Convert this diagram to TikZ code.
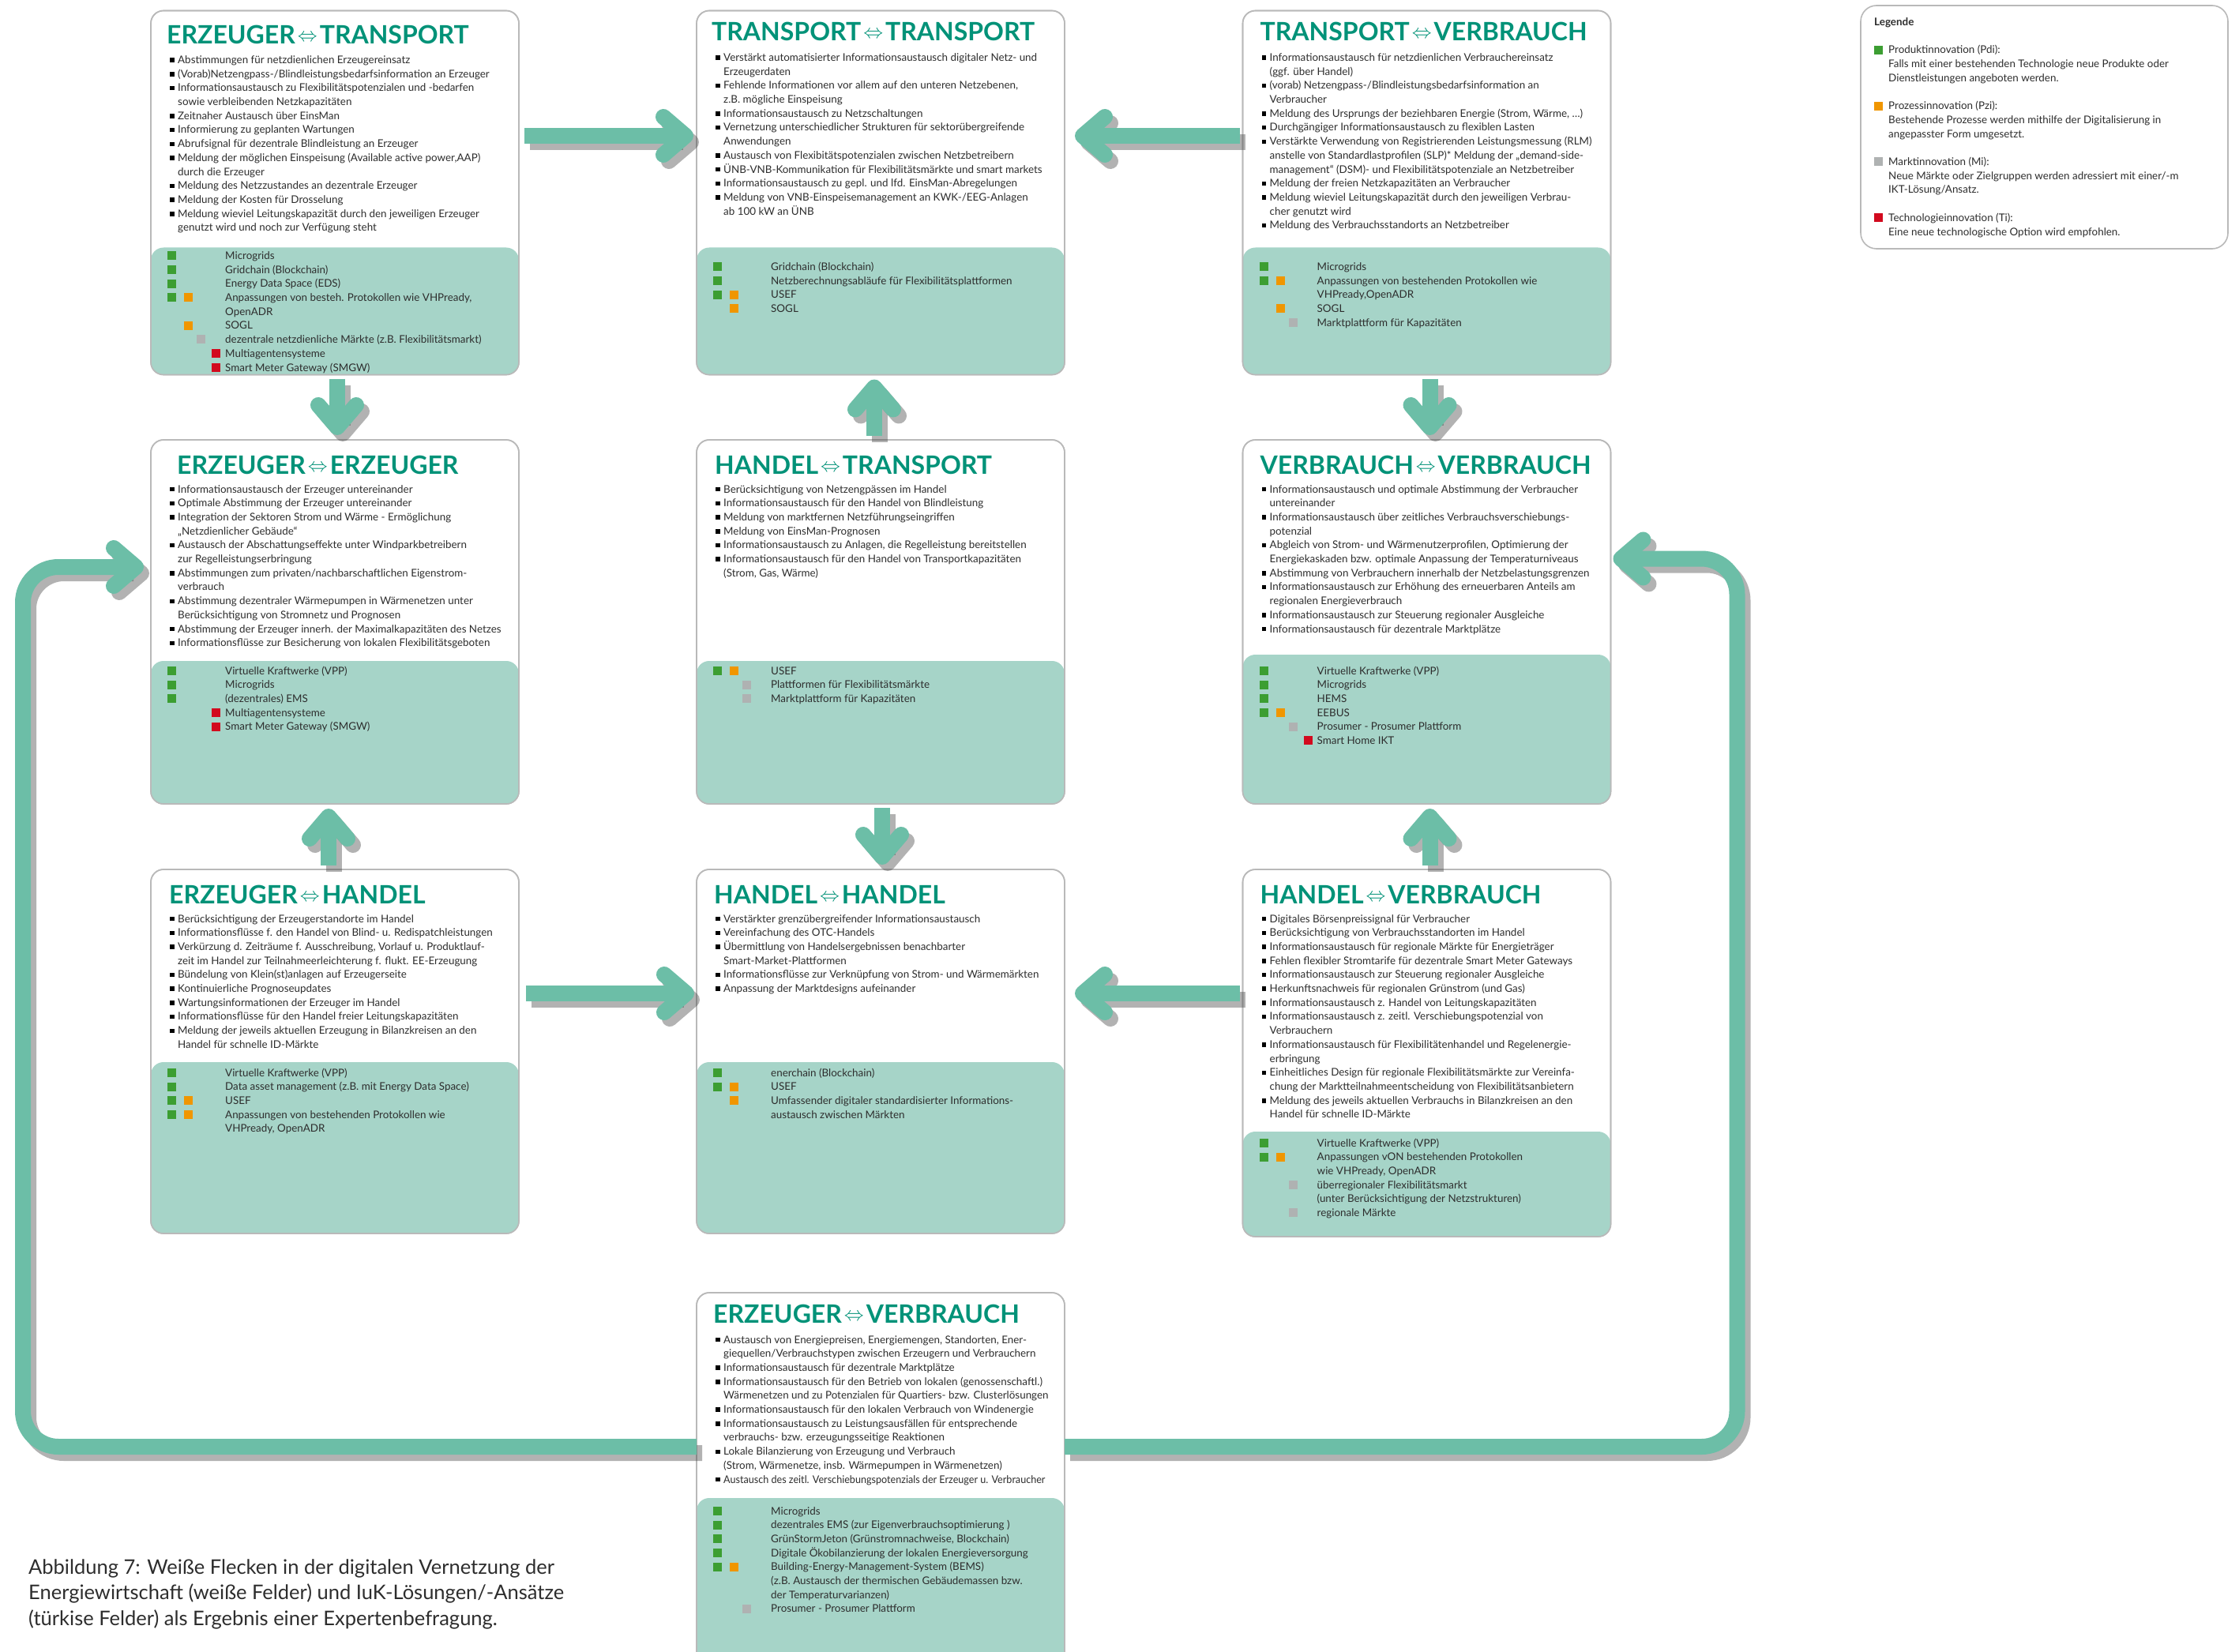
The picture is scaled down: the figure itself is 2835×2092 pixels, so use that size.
\documentclass[tikz,border=0pt]{standalone}
\usepackage{fontspec}
\setmainfont{Lato}
\usepackage{array}
\usetikzlibrary{arrows.meta}

\definecolor{titlecol}{RGB}{0,146,120}
\definecolor{flowcol}{RGB}{108,190,167}
\definecolor{techcol}{RGB}{166,212,200}
\definecolor{framecol}{RGB}{185,185,185}
\definecolor{textcol}{RGB}{45,45,45}
\definecolor{pdi}{RGB}{60,158,50}
\definecolor{pzi}{RGB}{240,150,0}
\definecolor{mi}{RGB}{175,178,178}
\definecolor{ti}{RGB}{210,10,30}
\colorlet{arrowcol}{flowcol}

\newcommand{\blt}{\textcolor{black}{\rule[1.6pt]{5.5pt}{5.5pt}}}
\newcommand{\sqG}{\textcolor{pdi}{\rule[-0.8pt]{11pt}{11pt}}}
\newcommand{\sqO}{\textcolor{pzi}{\rule[-0.8pt]{11pt}{11pt}}}
\newcommand{\sqM}{\textcolor{mi}{\rule[-0.8pt]{11pt}{11pt}}}
\newcommand{\sqT}{\textcolor{ti}{\rule[-0.8pt]{11pt}{11pt}}}
\newcommand{\pair}[2]{#1\hspace{3pt}\raisebox{3pt}{\fontsize{32pt}{32pt}\selectfont$\Leftrightarrow$}\hspace{3pt}#2}
\newcolumntype{B}{@{}p{10pt}@{}l@{}}
\newcolumntype{K}{@{}p{21pt}@{}p{16pt}@{}p{19pt}@{}p{17pt}@{}l@{}}
\newcolumntype{L}{@{}p{18pt}@{}l@{}}

\begin{document}
\begin{tikzpicture}[x=1pt, y=-1pt,
    box/.style={draw=framecol, line width=1.6pt, fill=white, rounded corners=16pt,
      minimum width=466pt, minimum height=461pt, inner sep=0pt, outer sep=0pt},
    tech/.style={fill=techcol, rounded corners=16pt},
    title/.style={anchor=base west, inner sep=0pt, text=titlecol,
      font=\fontsize{32pt}{36pt}\selectfont\bfseries},
    blist/.style={anchor=base west, inner sep=0pt, text=textcol,
      font=\fontsize{13.4pt}{17.7pt}\selectfont},
    flow/.style={draw=arrowcol, line width=20pt,
      -{Straight Barb[length=28pt,width=48pt,round]}}]

\fill[white] (0,0) rectangle (2835,2092);
\useasboundingbox (0,0) rectangle (2835,2092);

% Erzeuger - Transport
\node[box] (et) at (424,244) {};
\fill[tech] ([yshift=-300pt]et.north west) rectangle (et.south east);
\node[title] (et-t) at ([xshift=20pt,yshift=-42pt]et.north west) {\pair{ERZEUGER}{TRANSPORT}};
\node[blist] (et-b) at ([xshift=24pt,yshift=-67pt]et.north west) {\begin{tabular}[t]{B}
  \blt & Abstimmungen für netzdienlichen Erzeugereinsatz\\
  \blt & (Vorab)Netzengpass-/Blindleistungsbedarfsinformation an Erzeuger\\
  \blt & Informationsaustausch zu Flexibilitätspotenzialen und -bedarfen\\
       & sowie verbleibenden Netzkapazitäten\\
  \blt & Zeitnaher Austausch über EinsMan\\
  \blt & Informierung zu geplanten Wartungen\\
  \blt & Abrufsignal für dezentrale Blindleistung an Erzeuger\\
  \blt & Meldung der möglichen Einspeisung (Available active power,AAP)\\
       & durch die Erzeuger\\
  \blt & Meldung des Netzzustandes an dezentrale Erzeuger\\
  \blt & Meldung der Kosten für Drosselung\\
  \blt & Meldung wieviel Leitungskapazität durch den jeweiligen Erzeuger\\
       & genutzt wird und noch zur Verfügung steht
\end{tabular}};
\node[blist] (et-k) at ([xshift=21pt,yshift=-315pt]et.north west) {\begin{tabular}[t]{K}
  \sqG & & & & Microgrids\\
  \sqG & & & & Gridchain (Blockchain)\\
  \sqG & & & & Energy Data Space (EDS)\\
  \sqG & \sqO & & & Anpassungen von besteh. Protokollen wie VHPready,\\
       & & & & OpenADR\\
       & \sqO & & & SOGL\\
       & & \sqM & & dezentrale netzdienliche Märkte (z.B. Flexibilitätsmarkt)\\
       & & & \sqT & Multiagentensysteme\\
       & & & \sqT & Smart Meter Gateway (SMGW)
\end{tabular}};

% Transport - Transport
\node[box] (tt) at (1115,244) {};
\fill[tech] ([yshift=-300pt]tt.north west) rectangle (tt.south east);
\node[title] (tt-t) at ([xshift=19pt,yshift=-38pt]tt.north west) {\pair{TRANSPORT}{TRANSPORT}};
\node[blist] (tt-b) at ([xshift=24pt,yshift=-64pt]tt.north west) {\begin{tabular}[t]{B}
  \blt & Verstärkt automatisierter Informationsaustausch digitaler Netz- und\\
       & Erzeugerdaten\\
  \blt & Fehlende Informationen vor allem auf den unteren Netzebenen,\\
       & z.B. mögliche Einspeisung\\
  \blt & Informationsaustausch zu Netzschaltungen\\
  \blt & Vernetzung unterschiedlicher Strukturen für sektorübergreifende\\
       & Anwendungen\\
  \blt & Austausch von Flexibitätspotenzialen zwischen Netzbetreibern\\
  \blt & ÜNB-VNB-Kommunikation für Flexibilitätsmärkte und smart markets\\
  \blt & Informationsaustausch zu gepl. und lfd. EinsMan-Abregelungen\\
  \blt & Meldung von VNB-Einspeisemanagement an KWK-/EEG-Anlagen\\
       & ab 100 kW an ÜNB
\end{tabular}};
\node[blist] (tt-k) at ([xshift=21pt,yshift=-329pt]tt.north west) {\begin{tabular}[t]{K}
  \sqG & & & & Gridchain (Blockchain)\\
  \sqG & & & & Netzberechnungsabläufe für Flexibilitätsplattformen\\
  \sqG & \sqO & & & USEF\\
       & \sqO & & & SOGL
\end{tabular}};

% Transport - Verbrauch
\node[box] (tv) at (1806.5,244) {};
\fill[tech] ([yshift=-300pt]tv.north west) rectangle (tv.south east);
\node[title] (tv-t) at ([xshift=22pt,yshift=-38pt]tv.north west) {\pair{TRANSPORT}{VERBRAUCH}};
\node[blist] (tv-b) at ([xshift=24pt,yshift=-64pt]tv.north west) {\begin{tabular}[t]{B}
  \blt & Informationsaustausch für netzdienlichen Verbrauchereinsatz\\
       & (ggf. über Handel)\\
  \blt & (vorab) Netzengpass-/Blindleistungsbedarfsinformation an\\
       & Verbraucher\\
  \blt & Meldung des Ursprungs der beziehbaren Energie (Strom, Wärme, …)\\
  \blt & Durchgängiger Informationsaustausch zu flexiblen Lasten\\
  \blt & Verstärkte Verwendung von Registrierenden Leistungsmessung (RLM)\\
       & anstelle von Standardlastprofilen (SLP)* Meldung der „demand-side-\\
       & management“ (DSM)- und Flexibilitätspotenziale an Netzbetreiber\\
  \blt & Meldung der freien Netzkapazitäten an Verbraucher\\
  \blt & Meldung wieviel Leitungskapazität durch den jeweiligen Verbrau-\\
       & cher genutzt wird\\
  \blt & Meldung des Verbrauchsstandorts an Netzbetreiber
\end{tabular}};
\node[blist] (tv-k) at ([xshift=21pt,yshift=-329pt]tv.north west) {\begin{tabular}[t]{K}
  \sqG & & & & Microgrids\\
  \sqG & \sqO & & & Anpassungen von bestehenden Protokollen wie\\
       & & & & VHPready,OpenADR\\
       & \sqO & & & SOGL\\
       & & \sqM & & Marktplattform für Kapazitäten
\end{tabular}};

% Erzeuger - Erzeuger
\node[box] (ee) at (424,787.5) {};
\fill[tech] ([yshift=-280pt]ee.north west) rectangle (ee.south east);
\node[title] (ee-t) at ([xshift=33pt,yshift=-43pt]ee.north west) {\pair{ERZEUGER}{ERZEUGER}};
\node[blist] (ee-b) at ([xshift=24pt,yshift=-67pt]ee.north west) {\begin{tabular}[t]{B}
  \blt & Informationsaustausch der Erzeuger untereinander\\
  \blt & Optimale Abstimmung der Erzeuger untereinander\\
  \blt & Integration der Sektoren Strom und Wärme - Ermöglichung\\
       & „Netzdienlicher Gebäude“\\
  \blt & Austausch der Abschattungseffekte unter Windparkbetreibern\\
       & zur Regelleistungserbringung\\
  \blt & Abstimmungen zum privaten/nachbarschaftlichen Eigenstrom-\\
       & verbrauch\\
  \blt & Abstimmung dezentraler Wärmepumpen in Wärmenetzen unter\\
       & Berücksichtigung von Stromnetz und Prognosen\\
  \blt & Abstimmung der Erzeuger innerh. der Maximalkapazitäten des Netzes\\
  \blt & Informationsflüsse zur Besicherung von lokalen Flexibilitätsgeboten
\end{tabular}};
\node[blist] (ee-k) at ([xshift=21pt,yshift=-297pt]ee.north west) {\begin{tabular}[t]{K}
  \sqG & & & & Virtuelle Kraftwerke (VPP)\\
  \sqG & & & & Microgrids\\
  \sqG & & & & (dezentrales) EMS\\
       & & & \sqT & Multiagentensysteme\\
       & & & \sqT & Smart Meter Gateway (SMGW)
\end{tabular}};

% Handel - Transport
\node[box] (ht) at (1115,787.5) {};
\fill[tech] ([yshift=-280pt]ht.north west) rectangle (ht.south east);
\node[title] (ht-t) at ([xshift=23pt,yshift=-43pt]ht.north west) {\pair{HANDEL}{TRANSPORT}};
\node[blist] (ht-b) at ([xshift=24pt,yshift=-67pt]ht.north west) {\begin{tabular}[t]{B}
  \blt & Berücksichtigung von Netzengpässen im Handel\\
  \blt & Informationsaustausch für den Handel von Blindleistung\\
  \blt & Meldung von marktfernen Netzführungseingriffen\\
  \blt & Meldung von EinsMan-Prognosen\\
  \blt & Informationsaustausch zu Anlagen, die Regelleistung bereitstellen\\
  \blt & Informationsaustausch für den Handel von Transportkapazitäten\\
       & (Strom, Gas, Wärme)
\end{tabular}};
\node[blist] (ht-k) at ([xshift=21pt,yshift=-297pt]ht.north west) {\begin{tabular}[t]{K}
  \sqG & \sqO & & & USEF\\
       & & \sqM & & Plattformen für Flexibilitätsmärkte\\
       & & \sqM & & Marktplattform für Kapazitäten
\end{tabular}};

% Verbrauch - Verbrauch
\node[box] (vv) at (1806.5,787.5) {};
\fill[tech] ([yshift=-272pt]vv.north west) rectangle (vv.south east);
\node[title] (vv-t) at ([xshift=22pt,yshift=-43pt]vv.north west) {\pair{VERBRAUCH}{VERBRAUCH}};
\node[blist] (vv-b) at ([xshift=24pt,yshift=-67pt]vv.north west) {\begin{tabular}[t]{B}
  \blt & Informationsaustausch und optimale Abstimmung der Verbraucher\\
       & untereinander\\
  \blt & Informationsaustausch über zeitliches Verbrauchsverschiebungs-\\
       & potenzial\\
  \blt & Abgleich von Strom- und Wärmenutzerprofilen, Optimierung der\\
       & Energiekaskaden bzw. optimale Anpassung der Temperaturniveaus\\
  \blt & Abstimmung von Verbrauchern innerhalb der Netzbelastungsgrenzen\\
  \blt & Informationsaustausch zur Erhöhung des erneuerbaren Anteils am\\
       & regionalen Energieverbrauch\\
  \blt & Informationsaustausch zur Steuerung regionaler Ausgleiche\\
  \blt & Informationsaustausch für dezentrale Marktplätze
\end{tabular}};
\node[blist] (vv-k) at ([xshift=21pt,yshift=-297pt]vv.north west) {\begin{tabular}[t]{K}
  \sqG & & & & Virtuelle Kraftwerke (VPP)\\
  \sqG & & & & Microgrids\\
  \sqG & & & & HEMS\\
  \sqG & \sqO & & & EEBUS\\
       & & \sqM & & Prosumer - Prosumer Plattform\\
       & & & \sqT & Smart Home IKT
\end{tabular}};

% Erzeuger - Handel
\node[box] (eh) at (424,1331.5) {};
\fill[tech] ([yshift=-244pt]eh.north west) rectangle (eh.south east);
\node[title] (eh-t) at ([xshift=23pt,yshift=-43pt]eh.north west) {\pair{ERZEUGER}{HANDEL}};
\node[blist] (eh-b) at ([xshift=24pt,yshift=-67pt]eh.north west) {\begin{tabular}[t]{B}
  \blt & Berücksichtigung der Erzeugerstandorte im Handel\\
  \blt & Informationsflüsse f. den Handel von Blind- u. Redispatchleistungen\\
  \blt & Verkürzung d. Zeiträume f. Ausschreibung, Vorlauf u. Produktlauf-\\
       & zeit im Handel zur Teilnahmeerleichterung f. flukt. EE-Erzeugung\\
  \blt & Bündelung von Klein(st)anlagen auf Erzeugerseite\\
  \blt & Kontinuierliche Prognoseupdates\\
  \blt & Wartungsinformationen der Erzeuger im Handel\\
  \blt & Informationsflüsse für den Handel freier Leitungskapazitäten\\
  \blt & Meldung der jeweils aktuellen Erzeugung in Bilanzkreisen an den\\
       & Handel für schnelle ID-Märkte
\end{tabular}};
\node[blist] (eh-k) at ([xshift=21pt,yshift=-262pt]eh.north west) {\begin{tabular}[t]{K}
  \sqG & & & & Virtuelle Kraftwerke (VPP)\\
  \sqG & & & & Data asset management (z.B. mit Energy Data Space)\\
  \sqG & \sqO & & & USEF\\
  \sqG & \sqO & & & Anpassungen von bestehenden Protokollen wie\\
       & & & & VHPready, OpenADR
\end{tabular}};

% Handel - Handel
\node[box] (hh) at (1115,1331.5) {};
\fill[tech] ([yshift=-244pt]hh.north west) rectangle (hh.south east);
\node[title] (hh-t) at ([xshift=22pt,yshift=-43pt]hh.north west) {\pair{HANDEL}{HANDEL}};
\node[blist] (hh-b) at ([xshift=24pt,yshift=-67pt]hh.north west) {\begin{tabular}[t]{B}
  \blt & Verstärkter grenzübergreifender Informationsaustausch\\
  \blt & Vereinfachung des OTC-Handels\\
  \blt & Übermittlung von Handelsergebnissen benachbarter\\
       & Smart-Market-Plattformen\\
  \blt & Informationsflüsse zur Verknüpfung von Strom- und Wärmemärkten\\
  \blt & Anpassung der Marktdesigns aufeinander
\end{tabular}};
\node[blist] (hh-k) at ([xshift=21pt,yshift=-262pt]hh.north west) {\begin{tabular}[t]{K}
  \sqG & & & & enerchain (Blockchain)\\
  \sqG & \sqO & & & USEF\\
       & \sqO & & & Umfassender digitaler standardisierter Informations-\\
       & & & & austausch zwischen Märkten
\end{tabular}};

% Handel - Verbrauch
\node[box, minimum height=465pt] (hv) at (1806.5,1333.5) {};
\fill[tech] ([yshift=-332pt]hv.north west) rectangle (hv.south east);
\node[title] (hv-t) at ([xshift=22pt,yshift=-43pt]hv.north west) {\pair{HANDEL}{VERBRAUCH}};
\node[blist] (hv-b) at ([xshift=24pt,yshift=-67pt]hv.north west) {\begin{tabular}[t]{B}
  \blt & Digitales Börsenpreissignal für Verbraucher\\
  \blt & Berücksichtigung von Verbrauchsstandorten im Handel\\
  \blt & Informationsaustausch für regionale Märkte für Energieträger\\
  \blt & Fehlen flexibler Stromtarife für dezentrale Smart Meter Gateways\\
  \blt & Informationsaustausch zur Steuerung regionaler Ausgleiche\\
  \blt & Herkunftsnachweis für regionalen Grünstrom (und Gas)\\
  \blt & Informationsaustausch z. Handel von Leitungskapazitäten\\
  \blt & Informationsaustausch z. zeitl. Verschiebungspotenzial von\\
       & Verbrauchern\\
  \blt & Informationsaustausch für Flexibilitätenhandel und Regelenergie-\\
       & erbringung\\
  \blt & Einheitliches Design für regionale Flexibilitätsmärkte zur Vereinfa-\\
       & chung der Marktteilnahmeentscheidung von Flexibilitätsanbietern\\
  \blt & Meldung des jeweils aktuellen Verbrauchs in Bilanzkreisen an den\\
       & Handel für schnelle ID-Märkte
\end{tabular}};
\node[blist] (hv-k) at ([xshift=21pt,yshift=-351pt]hv.north west) {\begin{tabular}[t]{K}
  \sqG & & & & Virtuelle Kraftwerke (VPP)\\
  \sqG & \sqO & & & Anpassungen vON bestehenden Protokollen\\
       & & & & wie VHPready, OpenADR\\
       & & \sqM & & überregionaler Flexibilitätsmarkt\\
       & & & & (unter Berücksichtigung der Netzstrukturen)\\
       & & \sqM & & regionale Märkte
\end{tabular}};

% Erzeuger - Verbrauch
\node[box, minimum height=480pt] (ev) at (1115,1877) {};
\fill[tech] ([yshift=-260pt]ev.north west) rectangle (ev.south east);
\node[title] (ev-t) at ([xshift=21pt,yshift=-38pt]ev.north west) {\pair{ERZEUGER}{VERBRAUCH}};
\node[blist] (ev-b) at ([xshift=24pt,yshift=-64pt]ev.north west) {\begin{tabular}[t]{B}
  \blt & Austausch von Energiepreisen, Energiemengen, Standorten, Ener-\\
       & giequellen/Verbrauchstypen zwischen Erzeugern und Verbrauchern\\
  \blt & Informationsaustausch für dezentrale Marktplätze\\
  \blt & Informationsaustausch für den Betrieb von lokalen (genossenschaftl.)\\
       & Wärmenetzen und zu Potenzialen für Quartiers- bzw. Clusterlösungen\\
  \blt & Informationsaustausch für den lokalen Verbrauch von Windenergie\\
  \blt & Informationsaustausch zu Leistungsausfällen für entsprechende\\
       & verbrauchs- bzw. erzeugungsseitige Reaktionen\\
  \blt & Lokale Bilanzierung von Erzeugung und Verbrauch\\
       & (Strom, Wärmenetze, insb. Wärmepumpen in Wärmenetzen)\\
  \blt & \scalebox{0.94}[1]{Austausch des zeitl. Verschiebungspotenzials der Erzeuger u. Verbraucher}
\end{tabular}};
\node[blist] (ev-k) at ([xshift=21pt,yshift=-281pt]ev.north west) {\begin{tabular}[t]{K}
  \sqG & & & & Microgrids\\
  \sqG & & & & dezentrales EMS (zur Eigenverbrauchsoptimierung )\\
  \sqG & & & & GrünStormJeton (Grünstromnachweise, Blockchain)\\
  \sqG & & & & Digitale Ökobilanzierung der lokalen Energieversorgung\\
  \sqG & \sqO & & & Building-Energy-Management-System (BEMS)\\
       & & & & (z.B. Austausch der thermischen Gebäudemassen bzw.\\
       & & & & der Temperaturvarianzen)\\
       & & \sqM & & Prosumer - Prosumer Plattform
\end{tabular}};

% frames over the turquoise parts
\foreach \b in {et,tt,tv,ee,ht,vv,eh,hh,hv,ev}
  \draw[framecol, line width=1.6pt, rounded corners=16pt] (\b.south west) rectangle (\b.north east);

% legend
\node[box, minimum width=465pt, minimum height=308pt, rounded corners=20pt] (lg) at (2588.5,161) {};
\node[blist] (lg-t) at ([xshift=17pt,yshift=-26pt]lg.north west) {\bfseries Legende};
\node[blist] (lg-b) at ([xshift=17pt,yshift=-61pt]lg.north west) {\begin{tabular}[t]{L}
  \sqG & Produktinnovation (Pdi):\\
       & Falls mit einer bestehenden Technologie neue Produkte oder\\
       & Dienstleistungen angeboten werden.\\
       & \\
  \sqO & Prozessinnovation (Pzi):\\
       & Bestehende Prozesse werden mithilfe der Digitalisierung in\\
       & angepasster Form umgesetzt.\\
       & \\
  \sqM & Marktinnovation (Mi):\\
       & Neue Märkte oder Zielgruppen werden adressiert mit einer/-m\\
       & IKT-Lösung/Ansatz.\\
       & \\
  \sqT & Technologieinnovation (Ti):\\
       & Eine neue technologische Option wird empfohlen.
\end{tabular}};

% caption
\node[blist, font=\fontsize{25.5pt}{32.5pt}\selectfont] (cap) at (36,1993) {\begin{tabular}[t]{@{}l@{}}
  Abbildung 7: Weiße Flecken in der digitalen Vernetzung der\\
  Energiewirtschaft (weiße Felder) und IuK-Lösungen/-Ansätze\\
  (türkise Felder) als Ergebnis einer Expertenbefragung.
\end{tabular}};

% arrows, first their shadows, then the arrows
\foreach \dx/\dy/\op/\col in {7/-8/0.4/black!75, 0/0/1/flowcol} {
\begin{scope}[transform canvas={xshift=\dx pt,yshift=\dy pt}, opacity=\op]
\colorlet{arrowcol}{\col}
\draw[flow] ([xshift=7pt,yshift=72pt]et.east) -- ([xshift=-4pt,yshift=72pt]tt.west);
\draw[flow] ([xshift=-4pt,yshift=72pt]tv.west) -- ([xshift=13pt,yshift=72pt]tt.east);
\draw[flow] ([xshift=3pt,yshift=-5pt]et.south) -- ([xshift=3pt,yshift=6pt]ee.north);
\draw[flow] ([xshift=-8pt,yshift=5pt]ht.north) -- ([xshift=-8pt,yshift=-6pt]tt.south);
\draw[flow] ([xshift=4pt,yshift=-5pt]tv.south) -- ([xshift=4pt,yshift=6pt]vv.north);
\draw[flow] ([xshift=-8pt,yshift=5pt]eh.north) -- ([xshift=-8pt,yshift=-6pt]ee.south);
\draw[flow] ([xshift=2pt,yshift=-5pt]ht.south) -- ([xshift=2pt,yshift=6pt]hh.north);
\draw[flow] ([xshift=4pt,yshift=5pt]hv.north) -- ([xshift=4pt,yshift=-6pt]vv.south);
\draw[flow] ([xshift=9pt,yshift=73.5pt]eh.east) -- ([xshift=-3pt,yshift=73.5pt]hh.west);
\draw[flow] ([xshift=-4pt,yshift=75.5pt]hv.west) -- ([xshift=13pt,yshift=73.5pt]hh.east);
\draw[flow, rounded corners=45pt] ([yshift=45pt]ev.west) -| ([xshift=-162pt,yshift=69.5pt]ee.west) -- ([xshift=-9pt,yshift=69.5pt]ee.west);
\draw[flow, rounded corners=45pt] ([yshift=45pt]ev.east) -| ([xshift=160pt,yshift=80pt]vv.east) -- ([xshift=3pt,yshift=80pt]vv.east);
\end{scope}
}
\end{tikzpicture}
\end{document}
